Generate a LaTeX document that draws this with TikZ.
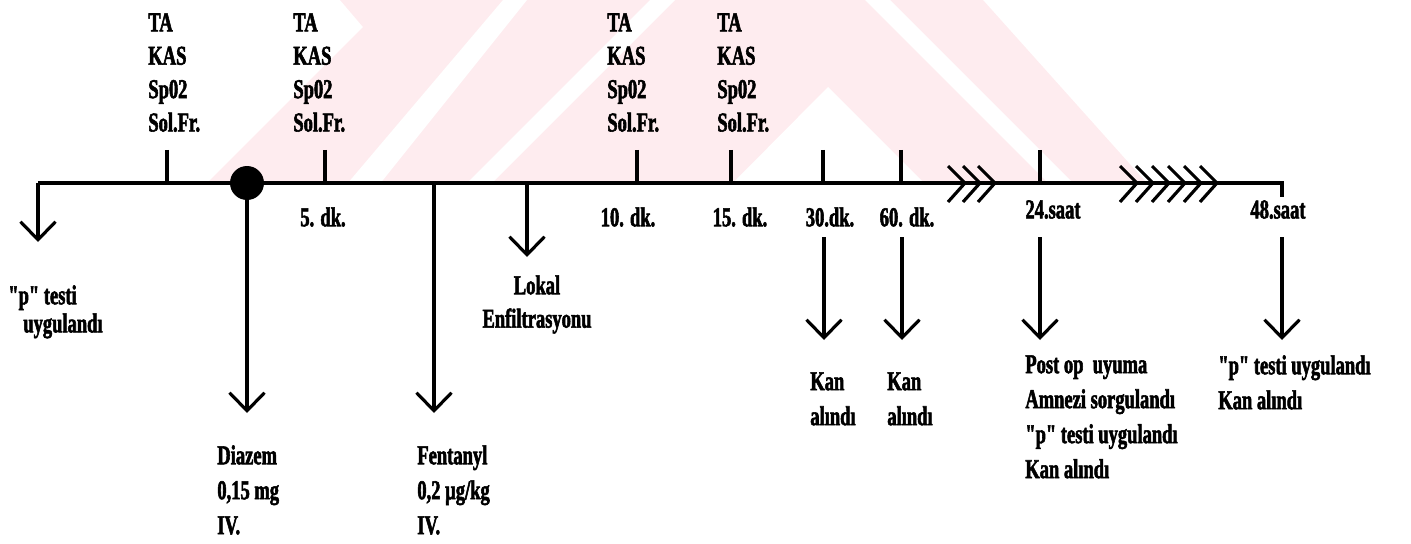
\documentclass[tikz,border=0pt]{standalone}
\usepackage{fontspec}
\newfontfamily\tlfont{Liberation Serif}[UprightFont=* Bold, FakeStretch=0.68, FakeBold=2]
\usetikzlibrary{arrows.meta}
\definecolor{wmpink}{RGB}{254,236,239}
\tikzset{
  axis/.style={line width=2.3pt},
  tick/.style={line width=1.8pt},
  down/.style={line width=1.8pt, -{Straight Barb[length=0.36cm, width=0.7cm]}},
  chev/.style={line width=1.8pt},
  dot/.style={circle, fill=black, inner sep=0pt, minimum size=0.68cm},
  lbl/.style={inner sep=0pt, align=left, font=\tlfont\fontsize{15.5}{#1}\selectfont},
  lbl/.default=19.9
}
\begin{document}
\begin{tikzpicture}[x=0.02cm, y=-0.02cm]
  \useasboundingbox (0,0) rectangle (1411,544);

  % silik arka plan deseni
  \begin{scope}
    \clip (0,0) rectangle (1411,181);
    \fill[wmpink] (340,0) -- (363,27) -- (180,210) -- (1171,210) -- (983,0) -- cycle;
    \fill[white] (325,210) -- (503,0) -- (527,0) -- (359,210) -- cycle;
    \fill[white] (440,210) -- (650,0) -- (675,0) -- (465,210) -- cycle;
    \fill[white] (706,210) -- (828,87) -- (951,210) -- cycle;
    \fill[white] (865,0) -- (890,0) -- (1100,210) -- (1075,210) -- cycle;
  \end{scope}

  % zaman ekseni
  \coordinate (t0) at (38,183);
  \coordinate (t1) at (1282,183);
  \coordinate (t1d) at (1282,197);
  \draw[axis] (t1d) -- (t1) -- (t0);

  % olcum cizgileri
  \foreach \x in {167,325,637,731,823,901,1040} {
    \draw[tick] (\x,150) -- (\x,183);
  }

  % eksen kirilmalari
  \foreach \x in {965,980,995,1137,1153,1169,1185,1201,1217} {
    \draw[chev] (\x-17,166) -- (\x,183) -- (\x-17,202);
  }

  % baslangic noktasi
  \node[dot] (start) at (247,183) {};

  % olcum etiketleri
  \node[lbl=19, anchor=north west] (m1) at (148,13) {TA\\KAS\\Sp02\\Sol.Fr.};
  \node[lbl=19, anchor=north west] (m2) at (293,13) {TA\\KAS\\Sp02\\Sol.Fr.};
  \node[lbl=19, anchor=north west] (m3) at (607,13) {TA\\KAS\\Sp02\\Sol.Fr.};
  \node[lbl=19, anchor=north west] (m4) at (717,13) {TA\\KAS\\Sp02\\Sol.Fr.};

  % zaman etiketleri
  \node[lbl, anchor=north] (d5) at (323,207) {5. dk.};
  \node[lbl, anchor=north] (d10) at (628,207) {10. dk.};
  \node[lbl, anchor=north] (d15) at (740,207) {15. dk.};
  \node[lbl, anchor=north] (d30) at (830,207) {30.dk.};
  \node[lbl, anchor=north] (d60) at (907,207) {60. dk.};
  \node[lbl, anchor=north] (h24) at (1053,200) {24.saat};
  \node[lbl, anchor=north] (h48) at (1278,200) {48.saat};

  % asagi oklar
  \coordinate (p0) at (38,242);
  \draw[down] (t0) -- (p0);
  \coordinate (dz) at (247,413);
  \draw[down] (start) -- (dz);
  \coordinate (fa) at (434,185);
  \coordinate (fb) at (434,413);
  \draw[down] (fa) -- (fb);
  \coordinate (la) at (527,185);
  \coordinate (lb) at (527,257);
  \draw[down] (la) -- (lb);
  \coordinate (k1a) at (824,237);
  \coordinate (k1b) at (824,340);
  \draw[down] (k1a) -- (k1b);
  \coordinate (k2a) at (902,237);
  \coordinate (k2b) at (902,340);
  \draw[down] (k2a) -- (k2b);
  \coordinate (s1a) at (1040,237);
  \coordinate (s1b) at (1040,340);
  \draw[down] (s1a) -- (s1b);
  \coordinate (s2a) at (1282,237);
  \coordinate (s2b) at (1282,340);
  \draw[down] (s2a) -- (s2b);

  % islem etiketleri
  \node[lbl=16, anchor=north west] (ptest) at (8,285) {"p" testi\\\hspace*{0.3cm}uygulandı};
  \node[lbl, anchor=north west] (diazem) at (217,445) {Diazem\\0,15 mg\\IV.};
  \node[lbl, anchor=north west] (fentanyl) at (417,445) {Fentanyl\\0,2 µg/kg\\IV.};
  \node[lbl=19, anchor=north, align=center] (lokal) at (537,275) {Lokal\\Enfiltrasyonu};
  \node[lbl, anchor=north west] (kan30) at (810,372) {Kan\\alındı};
  \node[lbl, anchor=north west] (kan60) at (887,372) {Kan\\alındı};
  \node[lbl, anchor=north west] (post) at (1025,355) {Post op \ uyuma\\Amnezi sorgulandı\\"p" testi uygulandı\\Kan alındı};
  \node[lbl, anchor=north west] (son) at (1218,355) {"p" testi uygulandı\\Kan alındı};
\end{tikzpicture}
\end{document}
